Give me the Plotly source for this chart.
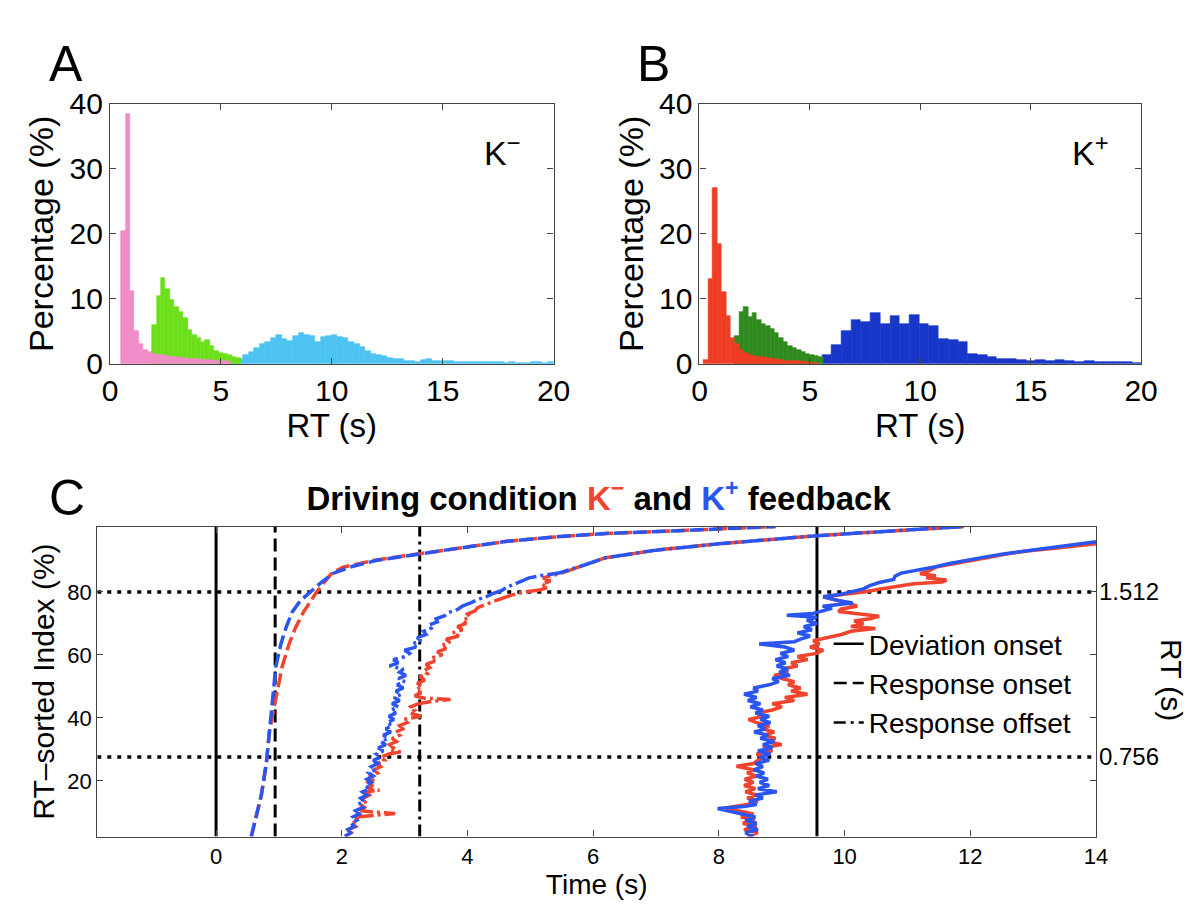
import plotly.graph_objects as go

W, H = 1201, 910
FONT = "Liberation Sans, Arial, Helvetica, sans-serif"

# ---------------- Panel A (K-) : RT histograms, percentage per bin ----------------
a_fast_start, a_fast_width = 0.5, 0.2
a_fast_pct = [20.5, 38.5, 11.2, 5.0, 3.0, 2.2, 1.8, 1.5, 1.35, 1.3, 1.2, 1.1, 1.0, 0.9,
              0.85, 0.8, 0.75, 0.7, 0.65, 0.6, 0.55, 0.5, 0.45, 0.4, 0.35]
a_mid_start, a_mid_width = 1.9, 0.2
a_mid_pct = [6.0, 10.5, 13.2, 11.5, 9.8, 8.8, 8.0, 7.0, 5.2, 4.4, 4.0, 3.4, 3.7, 2.8,
             2.0, 1.7, 1.5, 1.3, 1.1, 0.9]
a_slow_start, a_slow_width = 5.5, 0.25
a_slow_pct = [0.3, 0.8, 1.3, 1.8, 2.5, 3.0, 3.3, 4.0, 4.4, 3.8, 3.5, 4.3, 4.7, 4.4,
              4.3, 3.4, 4.1, 4.3, 4.5, 4.2, 4.0, 3.4, 3.0, 2.6, 2.0, 1.6, 1.4, 1.2,
              0.9, 0.8, 0.7, 0.5, 0.4, 0.35, 0.6, 0.7, 0.5, 0.45, 0.4, 0.4, 0.35, 0.35,
              0.3, 0.3, 0.3, 0.3, 0.25, 0.25, 0.25, 0.2, 0.25, 0.2, 0.2, 0.2, 0.3, 0.25,
              0.2, 0.3]

# ---------------- Panel B (K+) ----------------
b_fast_start, b_fast_width = 0.2, 0.2
b_fast_pct = [0.6, 13.0, 27.0, 18.4, 11.0, 7.3, 4.0, 3.0, 2.2, 1.7, 1.4, 1.2, 1.1, 1.0,
              0.9, 0.8, 0.7, 0.6, 0.5, 0.5, 0.4, 0.4, 0.3, 0.3, 0.2, 0.2]
b_mid_start, b_mid_width = 1.6, 0.2
b_mid_pct = [4.3, 8.0, 8.8, 7.2, 7.8, 6.8, 6.2, 5.8, 5.3, 4.8, 4.0, 3.4, 2.8, 2.4,
             2.1, 1.9, 1.6, 1.4, 1.2, 1.0]
b_slow_start, b_slow_width = 5.55, 0.44
b_slow_pct = [1.3, 2.9, 5.1, 6.8, 6.5, 7.9, 6.2, 7.3, 6.2, 7.5, 6.2, 5.8, 3.8, 3.7,
              3.3, 1.6, 1.3, 1.0, 0.8, 0.7, 0.6, 0.45, 0.6, 0.4, 0.55, 0.4, 0.35, 0.4,
              0.3, 0.3, 0.25, 0.35, 0.2]

# ---------------- Panel C : RT-sorted index (%) vs time (s) ----------------
# Response onset (dashed)
on_km_x = [0.56, 0.72, 0.80, 0.85, 0.95, 1.05, 1.16, 1.26, 1.39, 1.50, 1.60, 1.71, 1.84,
           2.02, 2.50, 3.01, 3.58, 4.10, 4.63, 5.40, 6.20, 7.50, 8.90]
on_km_y = [2.3, 15.4, 25.6, 35.9, 46.0, 56.2, 63.4, 68.5, 73.6, 77.2, 80.0, 82.8, 85.9,
           87.9, 90.0, 91.5, 93.1, 94.6, 96.1, 97.5, 98.6, 99.6, 100.8]
on_kp_x = [0.56, 0.72, 0.80, 0.85, 0.90, 0.95, 1.03, 1.11, 1.21, 1.34, 1.50, 1.66, 1.86,
           2.13, 2.54, 3.01, 3.58, 4.10, 4.63, 5.40, 6.20, 7.50, 8.90]
on_kp_y = [2.3, 15.4, 25.6, 35.9, 46.0, 56.2, 63.4, 68.5, 73.6, 77.2, 80.0, 82.8, 85.9,
           87.9, 90.0, 91.5, 93.1, 94.6, 96.1, 97.5, 98.6, 99.6, 100.8]

# Response offset (dash-dot)
off_km_x = [2.05, 2.15, 2.10, 2.22, 2.16, 2.27, 2.22, 2.55, 2.85, 2.55, 2.30, 2.36, 2.30,
            2.40, 2.34, 2.44, 2.38, 2.60, 2.42, 2.48, 2.42, 2.52, 2.46, 2.57, 2.52, 2.62,
            2.56, 2.68, 2.62, 2.75, 2.94, 2.76, 2.82, 2.76, 2.87, 2.80, 2.92, 2.86, 2.97,
            2.92, 3.04, 2.98, 3.27, 3.08, 3.16, 3.10, 3.22, 3.45, 3.73, 3.30, 3.16, 3.26,
            3.18, 3.28, 3.20, 3.32, 3.24, 3.36, 3.30, 3.40, 3.34, 3.48, 3.42, 3.60, 3.52,
            3.66, 3.58, 3.72, 3.66, 3.86, 3.76, 3.92, 3.84, 3.98, 3.92, 4.04, 4.00, 4.12,
            4.16, 4.28, 4.40, 4.55, 4.70, 4.90, 5.15, 5.28, 5.18, 5.32, 5.20, 5.36, 5.50,
            5.85, 6.20, 7.00, 8.00, 9.56, 10.50, 11.20, 11.90]
off_km_y = [2.3, 3.5, 4.5, 5.5, 6.5, 7.5, 8.5, 9.2, 9.6, 10.0, 10.5, 11.5, 12.5,
            13.5, 14.5, 15.5, 16.5, 17.0, 17.5, 18.5, 19.5, 20.5, 21.5, 22.5, 23.5, 24.5,
            25.5, 26.5, 27.5, 28.5, 29.2, 29.8, 30.5, 31.5, 32.5, 33.5, 34.5, 35.5, 36.5,
            37.5, 38.5, 39.5, 40.5, 41.5, 42.5, 43.5, 44.5, 45.3, 45.8, 46.3, 47.0, 48.0,
            49.0, 50.0, 51.0, 52.0, 53.0, 54.0, 55.0, 56.0, 57.0, 58.0, 59.0, 60.0, 61.0,
            62.0, 63.0, 64.0, 65.0, 66.0, 67.0, 68.0, 69.0, 70.0, 71.0, 72.0, 73.0, 74.0,
            75.0, 76.0, 77.0, 78.0, 79.0, 80.0, 80.6, 81.5, 82.5, 83.5, 84.5, 85.3, 86.0,
            88.5, 90.9, 93.3, 95.3, 97.9, 99.0, 99.9, 100.8]
off_kp_x = [2.05, 2.14, 2.10, 2.20, 2.15, 2.24, 2.18, 2.28, 2.22, 2.33, 2.26, 2.36, 2.30,
            2.40, 2.33, 2.44, 2.37, 2.47, 2.40, 2.50, 2.43, 2.54, 2.47, 2.57, 2.50, 2.62,
            2.55, 2.66, 2.58, 2.70, 2.62, 2.74, 2.66, 2.78, 2.70, 2.80, 2.72, 2.83, 2.75,
            2.86, 2.78, 2.90, 2.80, 2.92, 2.83, 2.95, 2.86, 2.98, 2.88, 3.00, 2.90, 3.02,
            2.92, 2.98, 2.76, 2.90, 2.82, 3.02, 3.08, 3.00, 3.18, 3.12, 3.26, 3.20, 3.34,
            3.30, 3.42, 3.38, 3.52, 3.50, 3.64, 3.70, 3.85, 3.92, 4.05, 4.15, 4.30, 4.40,
            4.55, 4.62, 4.75, 4.85, 4.98, 5.20, 5.45, 5.85, 6.20, 7.00, 8.00, 9.56, 10.50,
            11.20, 11.90]
off_kp_y = [2.3, 3.5, 4.5, 5.5, 6.5, 7.5, 8.5, 9.5, 10.5, 11.5, 12.5, 13.5, 14.5,
            15.5, 16.5, 17.5, 18.5, 19.5, 20.5, 21.5, 22.5, 23.5, 24.5, 25.5, 26.5, 27.5,
            28.5, 29.5, 30.5, 31.5, 32.5, 33.5, 34.5, 35.5, 36.5, 37.5, 38.5, 39.5, 40.5,
            41.5, 42.5, 43.5, 44.5, 45.5, 46.5, 47.5, 48.5, 49.5, 50.5, 51.5, 52.5, 53.5,
            54.5, 55.5, 56.5, 57.5, 58.5, 59.5, 60.5, 61.5, 62.5, 63.5, 64.5, 65.5, 66.5,
            67.5, 68.5, 69.5, 70.5, 71.5, 72.5, 73.5, 74.5, 75.5, 76.5, 77.5, 78.5, 79.5,
            80.5, 81.5, 82.5, 83.5, 84.5, 85.3, 86.0, 88.5, 90.9, 93.3, 95.3, 97.9, 99.0,
            99.9, 100.8]

# Deviation onset (solid)
dev_km_x = [8.45, 8.62, 8.40, 8.60, 8.38, 8.57, 8.35, 8.55, 8.30, 8.10, 8.45, 8.62, 8.45,
            8.60, 8.42, 8.58, 8.40, 8.55, 8.41, 8.60, 8.45, 8.55, 8.28, 8.55, 8.62, 8.72,
            8.60, 8.85, 8.70, 9.00, 8.78, 8.90, 8.72, 8.88, 8.70, 8.80, 8.60, 8.47, 8.72,
            8.60, 8.85, 9.00, 8.85, 9.20, 9.05, 9.41, 9.15, 9.30, 9.10, 9.20, 9.00, 8.88,
            9.10, 9.00, 9.25, 9.15, 9.41, 9.25, 9.55, 9.66, 9.45, 9.60, 9.50, 9.75, 9.95,
            10.10, 10.49, 10.10, 10.30, 10.15, 10.40, 10.55, 10.20, 9.90, 9.95, 10.20, 10.05,
            9.85, 9.66, 10.00, 10.30, 10.60, 10.85, 11.10, 11.55, 11.62, 11.30, 11.45, 11.20,
            11.35, 11.45, 11.70, 12.05, 12.30, 12.55, 12.90, 13.30, 13.65, 14.00]
dev_km_y = [2.3, 3.5, 4.5, 5.5, 6.5, 7.5, 8.5, 9.5, 10.5, 11.4, 12.5, 13.5, 14.5,
            15.5, 16.5, 17.5, 18.5, 19.5, 20.5, 21.5, 22.5, 23.5, 24.6, 25.5, 26.5, 27.5,
            28.5, 29.5, 30.5, 31.5, 32.5, 33.5, 34.5, 35.5, 36.5, 37.5, 38.5, 39.5, 40.5,
            41.5, 42.5, 43.5, 44.5, 45.5, 46.5, 47.5, 48.5, 49.5, 50.5, 51.5, 52.5, 53.5,
            54.5, 55.5, 56.5, 57.5, 58.5, 59.5, 60.5, 61.5, 62.5, 63.5, 64.5, 65.5, 66.5,
            67.5, 68.4, 69.0, 70.0, 70.8, 71.5, 72.3, 73.0, 73.8, 74.6, 75.5, 76.5,
            77.5, 78.5, 79.3, 80.0, 81.0, 81.8, 82.6, 83.2, 83.8, 84.5, 85.2, 85.8,
            86.8, 87.9, 88.8, 89.9, 91.0, 92.0, 93.0, 93.8, 94.6, 95.3]
dev_kp_x = [8.55, 8.42, 8.62, 8.45, 8.60, 8.42, 8.58, 8.35, 8.10, 7.98, 8.40, 8.60, 8.48,
            8.70, 8.58, 8.92, 8.62, 8.80, 8.65, 8.78, 8.60, 8.72, 8.55, 8.70, 8.58, 8.80,
            8.65, 8.82, 8.62, 8.85, 8.70, 8.88, 8.66, 8.78, 8.56, 8.74, 8.62, 8.82, 8.66,
            8.80, 8.58, 8.70, 8.50, 8.66, 8.46, 8.60, 8.40, 8.62, 8.55, 8.80, 8.95, 8.85,
            9.13, 8.96, 9.10, 8.92, 9.06, 8.90, 9.10, 8.98, 9.20, 9.05, 8.64, 9.20, 9.30,
            9.45, 9.25, 9.48, 9.35, 9.56, 9.40, 9.56, 9.08, 9.50, 9.65, 9.80, 9.65, 10.13,
            9.85, 9.66, 9.95, 10.10, 10.30, 10.40, 10.55, 10.78, 10.80, 10.90, 11.20, 11.45,
            11.65, 11.90, 12.20, 12.50, 12.85, 13.24, 13.60, 14.00]
dev_kp_y = [2.3, 3.5, 4.5, 5.5, 6.5, 7.5, 8.5, 9.5, 10.5, 11.2, 11.8, 12.5, 13.5,
            14.5, 15.5, 16.5, 17.5, 18.5, 19.5, 20.5, 21.5, 22.5, 23.5, 24.5, 25.5, 26.5,
            27.5, 28.5, 29.5, 30.5, 31.5, 32.5, 33.5, 34.5, 35.5, 36.5, 37.5, 38.5, 39.5,
            40.5, 41.5, 42.5, 43.5, 44.5, 45.5, 46.5, 47.5, 48.5, 49.5, 50.5, 51.5, 52.5,
            53.5, 54.5, 55.5, 56.5, 57.5, 58.5, 59.5, 60.5, 61.5, 62.5, 63.5, 64.2, 65.0,
            66.0, 67.0, 68.0, 69.0, 70.0, 71.0, 72.0, 72.6, 73.2, 74.0, 74.8, 75.5, 76.5,
            77.5, 78.5, 79.3, 80.0, 81.0, 82.0, 83.0, 84.0, 85.0, 86.0, 87.0, 88.0,
            89.0, 90.0, 91.0, 92.0, 93.0, 94.0, 95.0, 96.0]

# Reference markers
vline_times = [0.0, 0.94, 3.24, 9.56]
vline_kinds = ["solid", "dash", "dashdot", "solid"]
hline_pct = [80.0, 27.6]
hline_rt_labels = ["1.512", "0.756"]
legend_labels = ["Deviation onset", "Response onset", "Response offset"]

C_XR = [-1.89, 14.0]
C_YR = [2.3, 100.8]

# colours
PINK, LGREEN, CYAN = "#F08CC6", "#6BE01A", "#4CC3F1"
RED_B, GREEN_B, BLUE_B = "#F03C24", "#2F8A1F", "#1837C9"
RED_C, BLUE_C = "#F0442E", "#2B55F0"

DASH = {"solid": "solid", "dash": "13px,6px", "dashdot": "12px,5px,3px,5px"}
CURVE_DASH = {"solid": "solid", "dash": "14px,5px", "dashdot": "22px,4px,3px,4px"}


def px(x):
    return x / W


def py(y):
    return 1 - y / H


fig = go.Figure()


def add_hist(start, width, vals, color, xa, ya):
    centers = [start + width * (i + 0.5) for i in range(len(vals))]
    fig.add_trace(go.Bar(x=centers, y=vals, width=width, xaxis=xa, yaxis=ya,
                         marker=dict(color=color, line=dict(color=color, width=0.6)),
                         showlegend=False, hoverinfo="skip"))


# draw order: slow, mid, fast (fast on top)
add_hist(a_slow_start, a_slow_width, a_slow_pct, CYAN, "x", "y")
add_hist(a_mid_start, a_mid_width, a_mid_pct, LGREEN, "x", "y")
add_hist(a_fast_start, a_fast_width, a_fast_pct, PINK, "x", "y")
add_hist(b_slow_start, b_slow_width, b_slow_pct, BLUE_B, "x2", "y2")
add_hist(b_mid_start, b_mid_width, b_mid_pct, GREEN_B, "x2", "y2")
add_hist(b_fast_start, b_fast_width, b_fast_pct, RED_B, "x2", "y2")

# Panel C reference lines
for t, k in zip(vline_times, vline_kinds):
    fig.add_trace(go.Scatter(x=[t, t], y=C_YR, mode="lines", xaxis="x3", yaxis="y3",
                             line=dict(color="black", width=3, dash=DASH[k]),
                             showlegend=False, hoverinfo="skip"))
for h in hline_pct:
    fig.add_trace(go.Scatter(x=C_XR, y=[h, h], mode="lines", xaxis="x3", yaxis="y3",
                             line=dict(color="black", width=3.5, dash="4px,6px"),
                             showlegend=False, hoverinfo="skip"))

curves = [
    (on_km_x, on_km_y, RED_C, "dash"), (on_kp_x, on_kp_y, BLUE_C, "dash"),
    (off_km_x, off_km_y, RED_C, "dashdot"), (off_kp_x, off_kp_y, BLUE_C, "dashdot"),
    (dev_km_x, dev_km_y, RED_C, "solid"), (dev_kp_x, dev_kp_y, BLUE_C, "solid"),
]
for xs, ys, col, k in curves:
    fig.add_trace(go.Scatter(x=xs, y=ys, mode="lines", xaxis="x3", yaxis="y3",
                             line=dict(color=col, width=3.5, dash=CURVE_DASH[k]),
                             showlegend=False, hoverinfo="skip"))

# legend entries
for lab, k in zip(legend_labels, ["solid", "dash", "dashdot"]):
    fig.add_trace(go.Scatter(x=[None], y=[None], mode="lines", xaxis="x3", yaxis="y3",
                             name=lab, line=dict(color="black", width=2.5, dash=DASH[k])))

axis_common = dict(showline=True, linecolor="#444", linewidth=1.2, mirror="ticks",
                   ticks="inside", ticklen=6, tickcolor="#444", showgrid=False,
                   zeroline=False, fixedrange=True)


def ttl(s, size, standoff):
    return dict(text=s, font=dict(size=size, family=FONT, color="black"), standoff=standoff)


def minor_axis(over, anchor):
    # unlabeled overlay axis carrying the 5 % tick marks
    return dict(overlaying=over, anchor=anchor, range=[0, 40], tick0=0, dtick=5,
                showticklabels=False, **axis_common)


fig.update_layout(
    width=W, height=H, autosize=False,
    margin=dict(l=0, r=0, t=0, b=0),
    paper_bgcolor="white", plot_bgcolor="white",
    barmode="overlay", bargap=0,
    font=dict(family=FONT, color="black"),
    title=dict(text="<b>Driving condition <span style='color:%s'>K<sup>−</sup></span> and "
                    "<span style='color:%s'>K<sup>+</sup></span> feedback</b>" % (RED_C, BLUE_C),
               x=px(595), y=py(490), xanchor="center", yanchor="middle",
               xref="paper", yref="container",
               font=dict(size=33, family=FONT, color="black")),
    xaxis=dict(domain=[px(96), px(549)], range=[0, 20], tick0=0, dtick=5,
               tickfont=dict(size=30), anchor="y", title=ttl("RT (s)", 33, 0), **axis_common),
    yaxis=dict(domain=[py(352), py(82)], range=[0, 40], tick0=0, dtick=10,
               tickfont=dict(size=30), anchor="x", title=ttl("Percentage (%)", 34, 5),
               **axis_common),
    yaxis4=minor_axis("y", "x"),
    xaxis2=dict(domain=[px(698), px(1149)], range=[0, 20], tick0=0, dtick=5,
                tickfont=dict(size=30), anchor="y2", title=ttl("RT (s)", 33, 0), **axis_common),
    yaxis2=dict(domain=[py(352), py(82)], range=[0, 40], tick0=0, dtick=10,
                tickfont=dict(size=30), anchor="x2", title=ttl("Percentage (%)", 34, 5),
                **axis_common),
    yaxis5=minor_axis("y2", "x2"),
    xaxis3=dict(domain=[px(83), px(1103)], range=C_XR, tick0=0, dtick=2,
                tickfont=dict(size=22), anchor="y3", title=ttl("Time (s)", 28, 6),
                **axis_common),
    yaxis3=dict(domain=[py(843), py(521)], range=C_YR, tickvals=[20, 40, 60, 80],
                tickfont=dict(size=22), anchor="x3", title=ttl("RT–sorted Index (%)", 30, 3),
                **axis_common),
    legend=dict(x=px(830), y=py(617), xanchor="left", yanchor="top",
                bgcolor="rgba(0,0,0,0)", borderwidth=0, font=dict(size=28, family=FONT),
                tracegroupgap=0, itemwidth=30),
)

ann = []


def text(x, y, s, size, angle=0, xanchor="center", yanchor="middle", yref="paper", xref="paper"):
    ann.append(dict(x=x, y=y, xref=xref, yref=yref, text=s, showarrow=False,
                    textangle=angle, xanchor=xanchor, yanchor=yanchor,
                    font=dict(size=size, family=FONT, color="black")))


text(px(51), py(40), "A", 50)
text(px(651), py(40), "B", 50)
text(px(52), py(491), "C", 50)
text(px(476), py(130), "K<sup>−</sup>", 34, xanchor="left")
text(px(1076), py(130), "K<sup>+</sup>", 34, xanchor="left")
text(px(1180), py(681), "RT (s)", 30, angle=90)
for h, lab in zip(hline_pct, hline_rt_labels):
    text(px(1104), h, lab, 24, xanchor="left", yref="y3")

fig.update_layout(annotations=ann)
fig.write_html("out.html")
